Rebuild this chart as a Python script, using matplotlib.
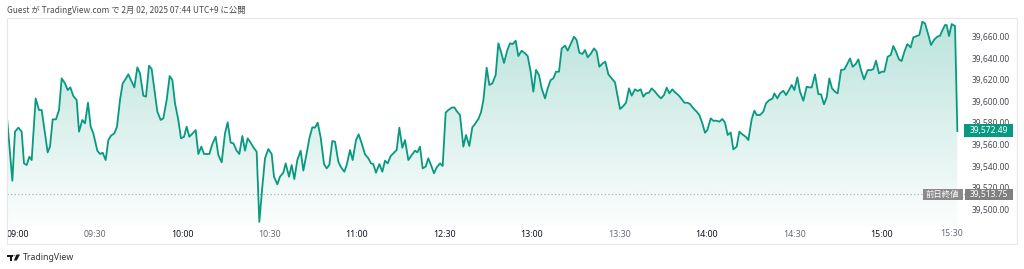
import numpy as np
import matplotlib
matplotlib.use("Agg")
import matplotlib.pyplot as plt
from matplotlib.patches import Rectangle, Polygon, Circle

# ---------------- data (session minutes from 09:00, lunch break removed) ----------------
minutes = [
    0.1, 1.83, 2.74, 3.89, 5.03, 5.83, 6.74, 7.66, 8.46, 9.83, 10.97, 11.89, 13.94, 14.74,
    15.66, 16.8, 17.83, 18.74, 19.89, 20.8, 21.71, 22.74, 23.89, 24.69, 25.83, 26.74, 27.77,
    28.69, 29.6, 30.97, 31.89, 32.8, 33.83, 34.74, 35.66, 36.8, 37.71, 38.74, 39.66, 40.8,
    41.6, 42.74, 43.66, 44.69, 45.6, 46.74, 47.66, 48.69, 49.6, 50.63, 51.54, 52.69, 53.6,
    54.74, 55.77, 56.69, 57.6, 58.74, 59.66, 60.69, 61.6, 62.51, 63.66, 64.69, 65.6, 66.63,
    67.54, 69.37, 70.4, 71.54, 72.46, 73.6, 74.74, 75.66, 76.69, 77.6, 78.74, 79.66, 80.69,
    81.6, 82.51, 83.54, 84.46, 85.6, 86.51,
    87.54, 88.46, 89.6, 90.74, 91.54, 92.69, 93.6, 94.74, 95.54, 96.69, 97.6, 98.51, 99.54,
    100.69, 101.6, 102.74, 103.66, 104.69, 105.6, 106.51, 107.54, 108.69, 109.6, 110.51,
    111.54, 112.46, 113.6, 114.4, 115.66, 116.46, 117.6, 118.51, 119.66, 120.57, 121.6,
    122.74, 123.89, 124.8, 125.6, 126.51, 127.66, 128.69, 129.6, 130.51, 131.54, 132.46,
    133.6, 134.51, 135.54, 136.46, 137.6, 138.51, 139.89, 140.69, 141.6, 142.51, 143.54,
    144.46, 145.37, 146.4, 147.31, 148.46, 149.37,
    150.4, 151.31, 152.46, 153.37, 154.17, 155.31, 156.46, 157.37, 158.51, 159.54, 160.46,
    161.6, 162.51, 163.31, 164.46, 165.37, 166.4, 167.54, 168.46, 169.37, 170.4, 171.54,
    172.46, 173.37, 174.4, 175.31, 176.46, 177.6, 178.51, 179.54, 180.46, 181.37, 182.4,
    183.31, 184.46, 185.37, 186.4, 187.31, 188.23, 189.26, 190.17, 191.31, 192.23, 193.37,
    194.4, 195.31, 196.23, 197.26, 198.17, 199.09, 200.11, 201.26, 202.17, 203.09, 204.23,
    205.14, 206.17, 207.31, 208.46, 209.26, 210.17, 211.31, 212.23, 213.26, 214.17, 215.31,
    216.23, 217.26, 218.17, 219.09, 220.11, 221.03, 222.17, 223.09, 224.23, 225.26, 226.17,
    227.09, 228.11, 229.03, 230.17, 231.31, 232.23, 233.26, 234.17, 235.31, 236.46, 237.37,
    238.4, 239.31, 240.11, 241.26, 242.17, 243.31, 244.23, 245.26, 246.17, 247.09, 248.11,
    249.03, 250.17, 251.09, 252.11, 253.26, 254.17, 255.31, 256.23, 257.03, 258.17,
    259.31, 260.23, 261.37, 262.4, 263.09, 264.11, 265.03, 266.17, 267.09, 268.11, 269.03,
    269.94, 270.97, 271.89, 273.03, 274.17, 275.09, 275.89, 277.03, 278.17, 279.09, 280.11,
    281.03, 281.94, 282.86, 283.89, 284.8, 285.94, 287.09, 287.89, 289.03, 289.94, 290.97,
    291.89, 292.8, 293.83, 295.09, 296.23, 297.03, 297.94, 298.97, 299.89, 300.8, 301.94,
    302.97, 303.89, 304.8, 305.83, 306.74, 307.66, 308.69, 309.83, 310.74, 311.89, 312.8,
    313.83, 314.74, 315.89, 316.8, 317.94, 318.97, 319.89, 320.46, 321.6, 322.17, 322.97,
    323.89, 324.46, 325.03, 325.83,
]
prices = [
    39582.0, 39526.5, 39571.9, 39575.6, 39571.9, 39542.5, 39541.0, 39548.7, 39545.6, 39602.7,
    39591.9, 39591.9, 39552.7, 39558.0, 39583.3, 39583.3, 39591.9, 39621.2, 39616.6, 39610.4,
    39612.9, 39604.9, 39601.2, 39571.9, 39582.7, 39579.6, 39598.7, 39576.5, 39570.3, 39554.3,
    39551.2, 39552.4, 39545.6, 39564.1, 39568.2, 39570.3, 39576.5, 39601.2, 39616.6, 39621.2,
    39625.0, 39618.2, 39612.9, 39631.4, 39625.9, 39605.2, 39604.3, 39633.0, 39629.9, 39608.9,
    39590.4, 39582.7, 39584.2, 39601.2, 39623.4, 39619.7, 39598.1, 39582.7, 39565.7, 39567.2,
    39576.5, 39567.2, 39570.3, 39573.4, 39551.2, 39558.0, 39551.2, 39551.2, 39560.4, 39567.2,
    39550.3, 39543.5, 39570.3, 39580.5, 39561.7, 39561.1, 39554.3, 39551.2, 39567.9, 39554.3,
    39565.7, 39561.7, 39557.4, 39553.3, 39488.5,
    39520.9, 39547.2, 39555.8, 39551.2, 39530.2, 39523.1, 39530.2, 39533.9, 39542.5, 39530.2,
    39541.0, 39528.0, 39545.6, 39554.3, 39535.8, 39551.8, 39565.7, 39575.9, 39575.6, 39580.2,
    39566.6, 39541.9, 39537.9, 39541.0, 39563.2, 39562.6, 39544.1, 39539.5, 39534.8, 39541.0,
    39554.9, 39545.6, 39564.1, 39569.4, 39561.1, 39550.9, 39547.2, 39542.5, 39541.9, 39533.9,
    39541.9, 39534.8, 39545.0, 39542.5, 39549.3, 39551.8, 39554.9, 39575.6, 39557.0, 39564.1,
    39545.6, 39549.3, 39554.3, 39552.7, 39558.0, 39537.9, 39539.5, 39547.2, 39541.0, 39533.3,
    39538.8, 39542.5, 39540.1,
    39589.5, 39591.9, 39594.1, 39594.4, 39591.0, 39587.3, 39558.0, 39568.8, 39558.6, 39575.9,
    39579.0, 39583.6, 39589.8, 39600.6, 39631.1, 39615.1, 39616.6, 39624.3, 39653.7, 39645.9,
    39635.5, 39647.5, 39653.7, 39653.0, 39656.1, 39641.9, 39646.9, 39644.4, 39641.9, 39627.4,
    39608.9, 39629.0, 39624.3, 39612.0, 39602.7, 39612.0, 39619.7, 39621.2, 39627.4, 39627.4,
    39649.0, 39651.5, 39646.9, 39653.7, 39659.8, 39656.7, 39645.0, 39643.8, 39647.5, 39640.7,
    39643.8, 39649.0, 39645.9, 39632.0, 39635.1, 39636.7, 39625.0, 39621.2, 39617.5, 39605.8,
    39592.9, 39595.6, 39598.7, 39612.0, 39605.2, 39611.1, 39609.5, 39611.1, 39604.3, 39607.4,
    39608.0, 39612.0, 39608.9, 39605.8, 39602.7, 39605.8, 39612.6, 39607.4, 39611.1, 39608.3,
    39605.8, 39602.1, 39598.7, 39598.7, 39597.5, 39593.5, 39590.4, 39587.3, 39579.6, 39570.9,
    39573.4, 39584.2, 39582.0, 39582.0, 39581.1, 39583.6, 39580.2, 39568.8, 39571.2, 39555.5,
    39558.0, 39571.9, 39569.4, 39567.2, 39564.1, 39583.3, 39591.3, 39587.3, 39587.3,
    39590.4, 39598.1, 39601.2, 39602.4, 39607.3, 39602.7, 39607.3, 39609.8, 39605.8, 39610.4,
    39615.1, 39610.4, 39622.2, 39608.9, 39600.5, 39613.5, 39612.9, 39612.9, 39624.9, 39606.7,
    39606.4, 39597.2, 39603.6, 39621.2, 39612.0, 39608.9, 39607.3, 39628.9, 39629.6, 39633.6,
    39639.7, 39632.0, 39634.5, 39638.8, 39628.9, 39620.3, 39628.9, 39628.9, 39629.9, 39637.6,
    39625.9, 39627.4, 39627.4, 39641.3, 39642.8, 39651.2, 39645.9, 39638.8, 39637.3, 39645.9,
    39653.0, 39649.9, 39659.2, 39660.4, 39661.4, 39673.7, 39672.2, 39661.4, 39652.1, 39657.3,
    39659.8, 39660.7, 39664.4, 39670.6, 39670.6, 39660.4, 39671.5, 39670.6, 39669.7, 39572.49,
]
prev_close = 39513.75
last_price = 39572.49
y_ticks = [39500, 39520, 39540, 39560, 39580, 39600, 39620, 39640, 39660]
x_tick_pos = [0, 30, 60, 90, 120, 150, 180, 210, 240, 270, 300]
x_tick_labels = ["09:00", "09:30", "10:00", "10:30", "11:00", "12:30", "13:00",
                 "13:30", "14:00", "14:30", "15:00"]
x_tick_major = [True, False, True, False, True, True, True, False, True, False, True]
last_tick_label = "15:30"
title_text = "Guest が TradingView.com で 2月 02, 2025 07:44 UTC+9 に公開"
prev_close_label = "前日終値"

# ---------------- style ----------------
plt.rcParams['font.family'] = ['Noto Sans', 'Noto Sans CJK JP', 'DejaVu Sans']
W, H = 1024, 269
TEAL = '#089981'
fig = plt.figure(figsize=(W / 100, H / 100), dpi=100)
fig.patch.set_facecolor('white')

def fx(px):
    return px / W

def fy(py):
    return 1 - py / H

# pane geometry in pixels
pl, pr, pt, pb = 7, 965, 18, 226
ax = fig.add_axes([fx(pl), fy(pb), fx(pr - pl), fy(pt) - fy(pb)])
x_lo, x_hi = 0, (pr - pl) / 2.9167
y_lo, y_hi = 39484.54, 39677.13
ax.set_xlim(x_lo, x_hi)
ax.set_ylim(y_lo, y_hi)
for s in ax.spines.values():
    s.set_visible(False)

# gradient fill under the line
poly = ax.fill_between(minutes, prices, y_lo, facecolor='none', edgecolor='none')
alpha = np.linspace(0.28, 0.015, 256)
rgb = matplotlib.colors.to_rgb(TEAL)
grad = np.zeros((256, 1, 4))
grad[:, 0, 0], grad[:, 0, 1], grad[:, 0, 2] = rgb
grad[:, 0, 3] = alpha
im = ax.imshow(grad, extent=[x_lo, x_hi, y_lo, y_hi], aspect='auto', origin='upper', zorder=1)
im.set_clip_path(poly.get_paths()[0], transform=ax.transData)

ax.plot(minutes, prices, color=TEAL, lw=1.3, zorder=3, solid_joinstyle='round')

# previous close dotted line
ax.axhline(prev_close, color='#a3a6af', lw=0.8, ls=(0, (1, 2.2)), zorder=2)

# ticks
ax.yaxis.tick_right()
ax.set_yticks(y_ticks)
ax.set_yticklabels([f"{v:,.2f}" for v in y_ticks])
ax.tick_params(axis='y', length=0, pad=4.5, labelsize=6.1, labelcolor='#4a4c54')
ax.set_xticks(x_tick_pos)
ax.set_xticklabels(x_tick_labels)
ax.tick_params(axis='x', length=0, pad=2.8, labelsize=6.4)
for lab, major in zip(ax.get_xticklabels(), x_tick_major):
    if major:
        lab.set_fontweight('bold')
        lab.set_color('#131722')
    else:
        lab.set_color('#6a6d78')
ax.get_xticklabels()[0].set_horizontalalignment('left')
fig.text(fx(963), fy(234), last_tick_label, ha='right', va='center', fontsize=6.4, color='#6a6d78')

# frame around chart
fig.add_artist(Rectangle((fx(7), fy(244)), fx(1017 - 7), fy(18) - fy(244), transform=fig.transFigure,
                         fill=False, edgecolor='#e6e8ec', lw=0.8))

# current price label
fig.add_artist(Rectangle((fx(964), fy(137.3)), fx(48.7), fy(124.3) - fy(137.3), transform=fig.transFigure,
                         facecolor=TEAL, edgecolor='none', zorder=4))
fig.text(fx(988.5), fy(131), f"{last_price:,.2f}", ha='center', va='center', fontsize=6.1, color='white',
         zorder=5)

# previous close labels
fig.add_artist(Rectangle((fx(922.7), fy(200)), fx(40), fy(188.5) - fy(200), transform=fig.transFigure,
                         facecolor='#8a8a8a', edgecolor='none', zorder=4))
fig.text(fx(942.7), fy(194.3), prev_close_label, ha='center', va='center', fontsize=6.0, color='white',
         family=['Noto Sans CJK JP', 'DejaVu Sans'], zorder=5)
fig.add_artist(Rectangle((fx(965), fy(200)), fx(47.7), fy(188.5) - fy(200), transform=fig.transFigure,
                         facecolor='#808080', edgecolor='none', zorder=4))
fig.text(fx(988.8), fy(194.3), f"{prev_close:,.2f}", ha='center', va='center', fontsize=6.1, color='white',
         zorder=5)

# title
fig.text(fx(7), fy(10), title_text, ha='left', va='center', fontsize=6.0, color='#4a4a4a',
         family=['Noto Sans CJK JP', 'DejaVu Sans'])

# TradingView logo + text
lg = '#131722'
fig.add_artist(Rectangle((fx(7), fy(257)), fx(5.5), fy(254.5) - fy(257), transform=fig.transFigure,
                         facecolor=lg, edgecolor='none'))
fig.add_artist(Rectangle((fx(9.5), fy(260.5)), fx(2.6), fy(254.5) - fy(260.5), transform=fig.transFigure,
                         facecolor=lg, edgecolor='none'))
fig.add_artist(Circle((fx(14.3), fy(255.8)), 1.2 / W, transform=fig.transFigure, facecolor=lg, edgecolor='none'))
fig.add_artist(Polygon([(fx(16.5), fy(254.5)), (fx(20), fy(254.5)), (fx(16.8), fy(260.5)), (fx(13.8), fy(260.5))],
                       closed=True, transform=fig.transFigure, facecolor=lg, edgecolor='none'))
fig.text(fx(22.7), fy(257.5), "TradingView", ha='left', va='center', fontsize=6.3, color='#333333')

fig.savefig('out.png', dpi=100, facecolor='white')
